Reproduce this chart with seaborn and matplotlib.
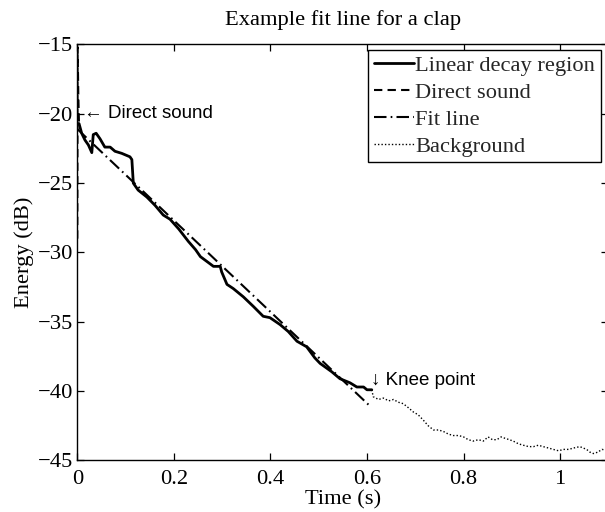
import numpy as np
import pandas as pd
import matplotlib
matplotlib.use("Agg")
import matplotlib.pyplot as plt
import seaborn as sns

# Energy decay curve of a clap (time in s, energy in dB)
direct_t = [0.0, 0.0006, 0.0012, 0.0020, 0.0028, 0.0035]
direct_e = [-29.0, -15.2, -16.5, -18.5, -19.8, -20.7]

decay_t = [0.0035, 0.009, 0.016, 0.023, 0.030, 0.033, 0.039, 0.047, 0.057, 0.068,
           0.078, 0.092, 0.109, 0.113, 0.116, 0.126, 0.144, 0.161, 0.178, 0.192,
           0.210, 0.230, 0.245, 0.255, 0.282, 0.296, 0.299, 0.310, 0.323, 0.344,
           0.365, 0.385, 0.399, 0.420, 0.437, 0.455, 0.475, 0.492, 0.503, 0.527,
           0.544, 0.565, 0.579, 0.593, 0.600, 0.610]
decay_e = [-20.7, -21.4, -21.9, -22.25, -22.8, -21.5, -21.4, -21.8, -22.4, -22.4,
           -22.7, -22.85, -23.1, -23.3, -25.0, -25.5, -26.0, -26.6, -27.3, -27.6,
           -28.3, -29.2, -29.8, -30.3, -31.0, -31.0, -31.4, -32.3, -32.6, -33.2,
           -33.9, -34.6, -34.7, -35.2, -35.7, -36.4, -36.8, -37.6, -38.0, -38.6,
           -39.1, -39.4, -39.7, -39.7, -39.9, -39.9]

fit_t = [0.0, 0.607]
fit_e = [-21.1, -41.1]

background_t = [0.610, 0.613, 0.624, 0.634, 0.645, 0.655, 0.665, 0.675, 0.686, 0.696,
                0.706, 0.717, 0.727, 0.738, 0.748, 0.758, 0.769, 0.779, 0.790, 0.800,
                0.810, 0.820, 0.831, 0.841, 0.851, 0.860, 0.869, 0.878, 0.886, 0.895,
                0.903, 0.914, 0.924, 0.935, 0.945, 0.955, 0.965, 0.976, 0.986, 0.997,
                1.007, 1.018, 1.028, 1.041, 1.048, 1.055, 1.062, 1.069, 1.078, 1.087,
                1.100]
background_e = [-39.9, -40.4, -40.6, -40.5, -40.7, -40.6, -40.8, -40.9, -41.2, -41.5,
                -41.7, -42.1, -42.5, -42.8, -42.8, -42.9, -43.1, -43.2, -43.2, -43.3,
                -43.5, -43.6, -43.5, -43.6, -43.3, -43.5, -43.5, -43.3, -43.4, -43.5,
                -43.6, -43.8, -43.9, -44.0, -44.0, -43.9, -44.0, -44.1, -44.2, -44.3,
                -44.2, -44.2, -44.1, -44.0, -44.1, -44.2, -44.4, -44.5, -44.4, -44.2,
                -44.3]

x_ticks = [0, 0.2, 0.4, 0.6, 0.8, 1]
x_tick_labels = ["0", "0.2", "0.4", "0.6", "0.8", "1"]
y_ticks = [-45, -40, -35, -30, -25, -20, -15]

sns.set_theme(style="ticks")
plt.rcParams["font.family"] = ["Liberation Serif", "DejaVu Serif"]

fig = plt.figure(figsize=(6.05, 5.12), dpi=100)
ax = fig.add_axes([0.1278, 0.1006, 0.8777, 0.8125])

serif_size = 16.2
sans = ["Liberation Sans", "DejaVu Sans"]

sns.lineplot(x=decay_t, y=decay_e, ax=ax, color="black", lw=2.0,
             estimator=None, sort=False, label="Linear decay region")
sns.lineplot(x=direct_t, y=direct_e, ax=ax, color="black", lw=1.5,
             linestyle=(0, (4, 2.5)), estimator=None, sort=False, label="Direct sound")
sns.lineplot(x=fit_t, y=fit_e, ax=ax, color="black", lw=1.5,
             linestyle=(0, (6, 2.0, 0.8, 2.0)), estimator=None, sort=False, label="Fit line")
sns.lineplot(x=background_t, y=background_e, ax=ax, color="black", lw=1.0,
             linestyle=(0, (1, 1.5)), estimator=None, sort=False, label="Background")

ax.set_xlim(0, 1.1)
ax.set_ylim(-45, -15)
ax.set_xticks(x_ticks)
ax.set_xticklabels(x_tick_labels)
ax.set_yticks(y_ticks)

ax.tick_params(direction="in", top=True, right=True, length=5, width=0.9,
               labelsize=serif_size, colors="black")
ax.tick_params(axis="x", pad=7)
ax.tick_params(axis="y", pad=3)
for sp in ax.spines.values():
    sp.set_linewidth(1.0)
    sp.set_color("black")

ax.set_title("Example fit line for a clap", fontsize=serif_size, pad=14, color="black")
ax.set_xlabel("Time (s)", fontsize=serif_size, labelpad=1, color="black")
ax.set_ylabel("Energy (dB)", fontsize=serif_size, labelpad=3, color="black")

ax.text(0.014, -20.0, "\u2190 Direct sound", fontsize=13.5, family=sans,
        va="center", ha="left", color="black")
ax.text(0.609, -39.2, "\u2193 Knee point", fontsize=13.5, family=sans,
        va="center", ha="left", color="black")

leg = ax.legend(loc="upper right", bbox_to_anchor=(0.9857, 0.9868), borderaxespad=0,
                frameon=True, fancybox=False, edgecolor="black", fontsize=serif_size,
                handlelength=1.8, handletextpad=0.05, labelspacing=0.27,
                borderpad=0.25, framealpha=1)
leg.get_frame().set_linewidth(1.0)

fig.savefig("out.png", dpi=100)
